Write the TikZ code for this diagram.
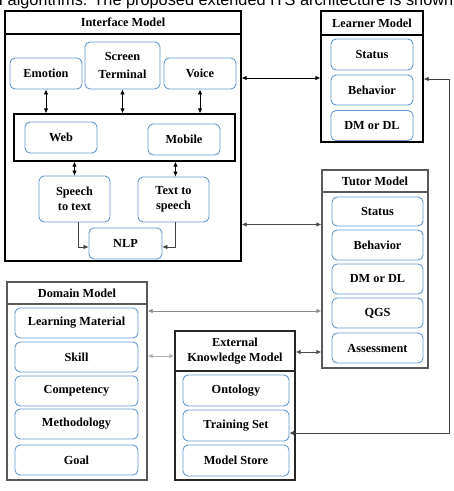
\documentclass[tikz,border=0pt]{standalone}
\usepackage{fontspec}
\setmainfont{Liberation Serif}
\newfontfamily\topfont{Liberation Sans}
\usetikzlibrary{arrows.meta}
\definecolor{itemblue}{RGB}{100,152,206}
\begin{document}
\begin{tikzpicture}[x=1pt,y=-1pt,
 lbl/.style={font=\fontsize{12.3}{15.5}\selectfont\bfseries, align=center},
 item/.style={lbl, draw=itemblue, line width=0.9pt, rounded corners=5pt, fill=white, inner sep=0pt},
 frame/.style={draw=black, line width=1.3pt, inner sep=0pt},
 gframe/.style={draw=black!65, line width=1.3pt, inner sep=0pt},
 tip/.tip={Latex[length=5pt,width=4.5pt]},
 dbl/.style={line width=0.8pt, tip-tip},
 sgl/.style={line width=0.6pt, draw=black!75, -tip},
]
\useasboundingbox (0,0) rectangle (454,491);
% partially visible sentence at the top
\node[anchor=base west, inner sep=0pt, font=\topfont\fontsize{16.3}{18}\selectfont] (toptext) at (-1.5,5.3) {I algorithms. The proposed extended ITS architecture is shown};

% ---------- Interface Model ----------
\node[frame, minimum width=236, minimum height=250] (ifm) at (123,136) {};
\draw[frame] (ifm.north west |- 0,34) -- (ifm.north east |- 0,34);
\node[lbl] (ifmt) at (123,22.5) {Interface Model};
\node[item, minimum width=72, minimum height=31] (emo) at (46,73.5) {Emotion};
\node[item, minimum width=75, minimum height=47] (scr) at (122.5,65.5) {Screen\\[3pt]Terminal};
\node[item, minimum width=72, minimum height=31] (voi) at (200,73.5) {Voice};
\node[frame, line width=1.2pt, minimum width=221, minimum height=47] (wm) at (124.5,137.5) {};
\node[item, minimum width=72, minimum height=31] (web) at (61,137.5) {Web};
\node[item, minimum width=72, minimum height=31] (mob) at (184,139.5) {Mobile};
\node[item, minimum width=71, minimum height=46] (stt) at (74.5,199) {Speech\\to text};
\node[item, minimum width=71, minimum height=45] (tts) at (173.5,199.5) {Text to\\speech};
\node[item, minimum width=73, minimum height=31] (nlp) at (125.5,243.5) {NLP};

\draw[dbl] (emo.south) -- (emo.south |- wm.north);
\draw[dbl] (scr.south) -- (scr.south |- wm.north);
\draw[dbl] (voi.south) -- (voi.south |- wm.north);
\draw[dbl] (stt.north) -- (stt.north |- wm.south);
\draw[dbl] ([xshift=2pt]tts.north) -- ([xshift=2pt]tts.north |- wm.south);
\draw[sgl] ([xshift=3.5pt]stt.south) |- ([yshift=-3.5pt]nlp.west);
\draw[sgl] ([xshift=1.5pt]tts.south) |- ([yshift=-3.5pt]nlp.east);

% ---------- Learner Model ----------
\node[frame, minimum width=102, minimum height=131] (lrn) at (372,76.5) {};
\draw[frame] (lrn.north west |- 0,35) -- (lrn.north east |- 0,35);
\node[lbl] (lrnt) at (372,23) {Learner Model};
\node[item, minimum width=82, minimum height=31] (lst) at (372,54.5) {Status};
\node[item, minimum width=82, minimum height=30] (lbe) at (372,90) {Behavior};
\node[item, minimum width=82, minimum height=30] (ldm) at (372,125.5) {DM or DL};

% ---------- Tutor Model ----------
\node[gframe, minimum width=106, minimum height=198] (tut) at (375,269) {};
\draw[gframe] (tut.north west |- 0,192) -- (tut.north east |- 0,192);
\node[lbl] (tutt) at (375,181) {Tutor Model};
\node[item, minimum width=91, minimum height=29] (tst) at (377.5,211.5) {Status};
\node[item, minimum width=91, minimum height=30] (tbe) at (377.5,245) {Behavior};
\node[item, minimum width=91, minimum height=30] (tdm) at (377.5,279) {DM or DL};
\node[item, minimum width=91, minimum height=30] (qgs) at (377.5,313) {QGS};
\node[item, minimum width=91, minimum height=30] (ass) at (377.5,348) {Assessment};

% ---------- Domain Model ----------
\node[gframe, minimum width=140, minimum height=198] (dom) at (77,381) {};
\draw[gframe] (dom.north west |- 0,304) -- (dom.north east |- 0,304);
\node[lbl] (domt) at (77,293) {Domain Model};
\node[item, minimum width=123, minimum height=30] (lm) at (76.5,323) {Learning Material};
\node[item, minimum width=123, minimum height=30] (ski) at (76.5,357) {Skill};
\node[item, minimum width=123, minimum height=30] (com) at (76.5,391) {Competency};
\node[item, minimum width=123, minimum height=30] (met) at (76.5,424) {Methodology};
\node[item, minimum width=123, minimum height=30] (goa) at (76.5,460) {Goal};

% ---------- External Knowledge Model ----------
\node[frame, draw=black!85, minimum width=120, minimum height=149] (ext) at (235,405.5) {};
\draw[frame, draw=black!85] (ext.north west |- 0,371) -- (ext.north east |- 0,371);
\node[lbl] (extt) at (235,351) {External\\Knowledge Model};
\node[item, minimum width=106, minimum height=31] (ont) at (236,390.5) {Ontology};
\node[item, minimum width=106, minimum height=31] (trs) at (236,425.5) {Training Set};
\node[item, minimum width=106, minimum height=31] (mst) at (236,460.5) {Model Store};

% ---------- connectors between models ----------
\draw[dbl] (ifm.east |- 0,78) -- (lrn.west |- 0,78);
\draw[dbl, draw=black!70] (ifm.east |- 0,224.5) -- (tut.west |- 0,224.5);
\coordinate (rtop) at (449,79);
\coordinate (rbot) at (449,433);
\draw[dbl, draw=black!75, line width=0.7pt] (lrn.east |- rtop) -- (rtop) -- (rbot) -- (trs.east |- rbot);
\draw[dbl, draw=black!45] (dom.east |- 0,311) -- (tut.west |- 0,311);
\draw[dbl, draw=black!30] (dom.east |- 0,356) -- (ext.west |- 0,356);
\draw[dbl, draw=black!70] (ext.east |- 0,352) -- (tut.west |- 0,352);
\end{tikzpicture}
\end{document}
